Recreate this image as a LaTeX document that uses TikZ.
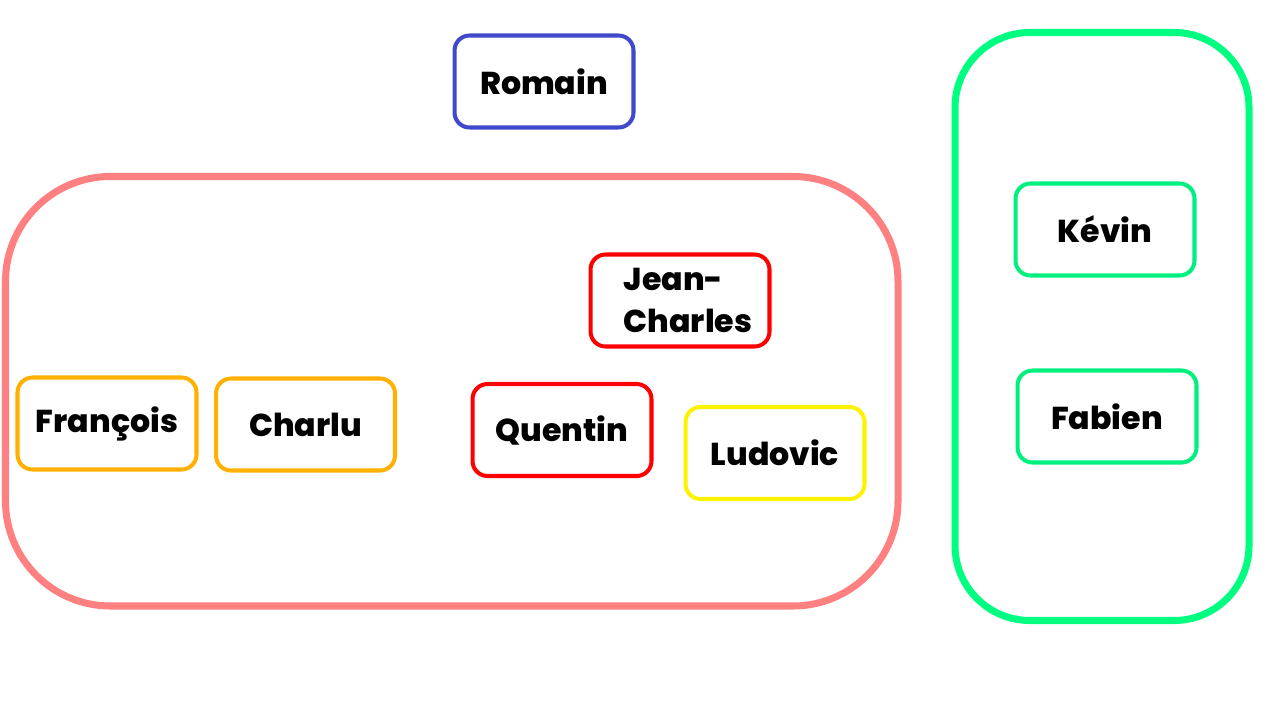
\documentclass[tikz,border=0pt]{standalone}
\usepackage{fontspec}
\setmainfont{Poppins}[BoldFont={Poppins ExtraBold}]
\usepackage{tikz}
\definecolor{romainblue}{RGB}{64,72,204}
\definecolor{groupred}{RGB}{255,128,128}
\definecolor{grouporange}{RGB}{255,176,0}
\definecolor{groupgreen}{RGB}{0,255,128}
\definecolor{persongreen}{RGB}{0,240,128}
\tikzset{%
	person/.style={draw,line width=2.3pt,rounded corners=0.3cm,minimum width=3.58cm,minimum height=1.84cm,
		font=\fontsize{18}{24}\selectfont\bfseries,fill=white,text=black},
	group/.style={line width=4pt}
}

\begin{document}
\begin{tikzpicture}[x=0.02cm,y=-0.02cm]
		\useasboundingbox (0,0) rectangle (1280,720);

		\coordinate (g1) at (5.5,176.5);
		\coordinate (g2) at (898,606);
		\coordinate (g3) at (955,32.5);
		\coordinate (g4) at (1249,620.5);

		\draw [group,draw=groupred,rounded corners=2.1cm] (g1) rectangle (g2);
		\draw [group,draw=groupgreen,rounded corners=1.5cm] (g3) rectangle (g4);

		\node [person,draw=romainblue] (romain) at (544,81.5) {Romain};

		\node [person,draw=grouporange] (francois) at (107,423.5) {François};
		\node [person,draw=grouporange] (charlu) at (305.5,424.5) {Charlu};
		\node [person,draw=red,align=left] (jeancharles) at (680,300.5) {\hspace*{0.32cm}Jean-\\\hspace*{0.32cm}Charles};
		\node [person,draw=red] (quentin) at (562,430) {Quentin};
		\node [person,draw=yellow] (ludovic) at (775,453) {Ludovic};

		\node [person,draw=persongreen] (kevin) at (1105,229.5) {Kévin};
		\node [person,draw=persongreen] (fabien) at (1107,416.5) {Fabien};

	\end{tikzpicture}
\end{document}
